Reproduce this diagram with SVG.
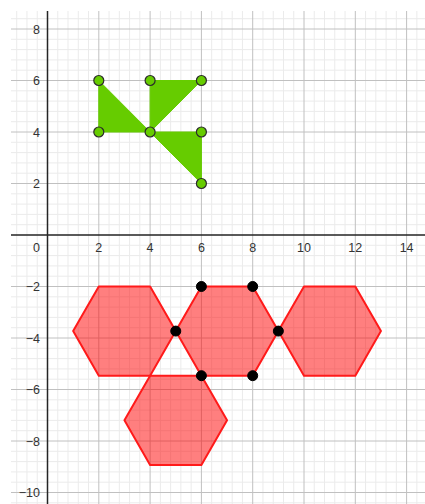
<svg xmlns="http://www.w3.org/2000/svg" width="425" height="504" viewBox="0 0 425 504">
<style>
.minor{stroke:#ebebeb;stroke-width:1;fill:none}
.major{stroke:#c0c0c0;stroke-width:1;fill:none}
.axis{stroke:#252525;stroke-width:1.5;fill:none}
.lbl{font-family:"Liberation Sans",Arial,sans-serif;font-size:12.5px;fill:#333}
.xl{text-anchor:middle}
.yl{text-anchor:end}
.hex{fill:#ff0000;fill-opacity:0.5;stroke:#ff1a1a;stroke-width:2;stroke-linejoin:round}
.tri{fill:#66cc00;stroke:#66cc00;stroke-width:1}
.gp{fill:#66cc00;stroke:#2b2b2b;stroke-width:1.2}
.bp{fill:#000;stroke:#000;stroke-width:1}
</style>
<rect width="425" height="504" fill="#fff"/>
<g id="grid">
<path class="minor" d="M16.72 11V504M26.98 11V504M37.24 11V504M57.76 11V504M68.02 11V504M78.28 11V504M88.54 11V504M109.06 11V504M119.32 11V504M129.58 11V504M139.84 11V504M160.36 11V504M170.62 11V504M180.88 11V504M191.14 11V504M211.66 11V504M221.92 11V504M232.18 11V504M242.44 11V504M262.96 11V504M273.22 11V504M283.48 11V504M293.74 11V504M314.26 11V504M324.52 11V504M334.78 11V504M345.04 11V504M365.56 11V504M375.82 11V504M386.08 11V504M396.34 11V504M416.86 11V504
M11 18.7H425M11 39.3H425M11 49.6H425M11 59.9H425M11 70.2H425M11 90.8H425M11 101.1H425M11 111.4H425M11 121.7H425M11 142.3H425M11 152.6H425M11 162.9H425M11 173.2H425M11 193.8H425M11 204.1H425M11 214.4H425M11 224.7H425M11 245.3H425M11 255.6H425M11 265.9H425M11 276.2H425M11 296.8H425M11 307.1H425M11 317.4H425M11 327.7H425M11 348.3H425M11 358.6H425M11 368.9H425M11 379.2H425M11 399.8H425M11 410.1H425M11 420.4H425M11 430.7H425M11 451.3H425M11 461.6H425M11 471.9H425M11 482.2H425M11 502.8H425"/>
<path class="major" d="M98.8 11V504M150.1 11V504M201.4 11V504M252.7 11V504M304 11V504M355.3 11V504M406.6 11V504
M11 29H425M11 80.5H425M11 132H425M11 183.5H425M11 286.5H425M11 338H425M11 389.5H425M11 441H425M11 492.5H425"/>
<path class="axis" d="M47.5 11V504M11 235H425"/>
</g>
<g id="labels" class="lbl">
<text class="xl" x="36.5" y="252">0</text>
<text class="xl" x="98.8" y="252">2</text>
<text class="xl" x="150.1" y="252">4</text>
<text class="xl" x="201.4" y="252">6</text>
<text class="xl" x="252.7" y="252">8</text>
<text class="xl" x="304" y="252">10</text>
<text class="xl" x="355.3" y="252">12</text>
<text class="xl" x="406.6" y="252">14</text>
<text class="yl" x="40" y="33.5">8</text>
<text class="yl" x="40" y="85">6</text>
<text class="yl" x="40" y="136.5">4</text>
<text class="yl" x="40" y="188">2</text>
<text class="yl" x="40" y="291">−2</text>
<text class="yl" x="40" y="342.5">−4</text>
<text class="yl" x="40" y="394">−6</text>
<text class="yl" x="40" y="445.5">−8</text>
<text class="yl" x="40" y="497">−10</text>
</g>
<g id="hex-left"><polygon class="hex" points="98.8,286.5 150.1,286.5 175.75,331.1 150.1,375.7 98.8,375.7 73.15,331.1"/></g>
<g id="hex-middle"><polygon class="hex" points="201.4,286.5 252.7,286.5 278.35,331.1 252.7,375.7 201.4,375.7 175.75,331.1"/></g>
<g id="hex-right"><polygon class="hex" points="304,286.5 355.3,286.5 380.95,331.1 355.3,375.7 304,375.7 278.35,331.1"/></g>
<g id="hex-bottom"><polygon class="hex" points="150.1,375.7 201.4,375.7 227.05,420.3 201.4,464.9 150.1,464.9 124.45,420.3"/></g>
<g id="tri-1"><polygon class="tri" points="98.8,80.5 98.8,132 150.1,132"/></g>
<g id="tri-2"><polygon class="tri" points="150.1,80.5 201.4,80.5 150.1,132"/></g>
<g id="tri-3"><polygon class="tri" points="150.1,132 201.4,132 201.4,183.5"/></g>
<g id="green-points">
<circle class="gp" cx="98.8" cy="80.5" r="5"/>
<circle class="gp" cx="98.8" cy="132" r="5"/>
<circle class="gp" cx="150.1" cy="80.5" r="5"/>
<circle class="gp" cx="201.4" cy="80.5" r="5"/>
<circle class="gp" cx="150.1" cy="132" r="5"/>
<circle class="gp" cx="201.4" cy="132" r="5"/>
<circle class="gp" cx="201.4" cy="183.5" r="5"/>
</g>
<g id="black-points">
<circle class="bp" cx="201.4" cy="286.5" r="5"/>
<circle class="bp" cx="252.7" cy="286.5" r="5"/>
<circle class="bp" cx="175.75" cy="331.1" r="5"/>
<circle class="bp" cx="278.35" cy="331.1" r="5"/>
<circle class="bp" cx="201.4" cy="375.7" r="5"/>
<circle class="bp" cx="252.7" cy="375.7" r="5"/>
</g>
</svg>
